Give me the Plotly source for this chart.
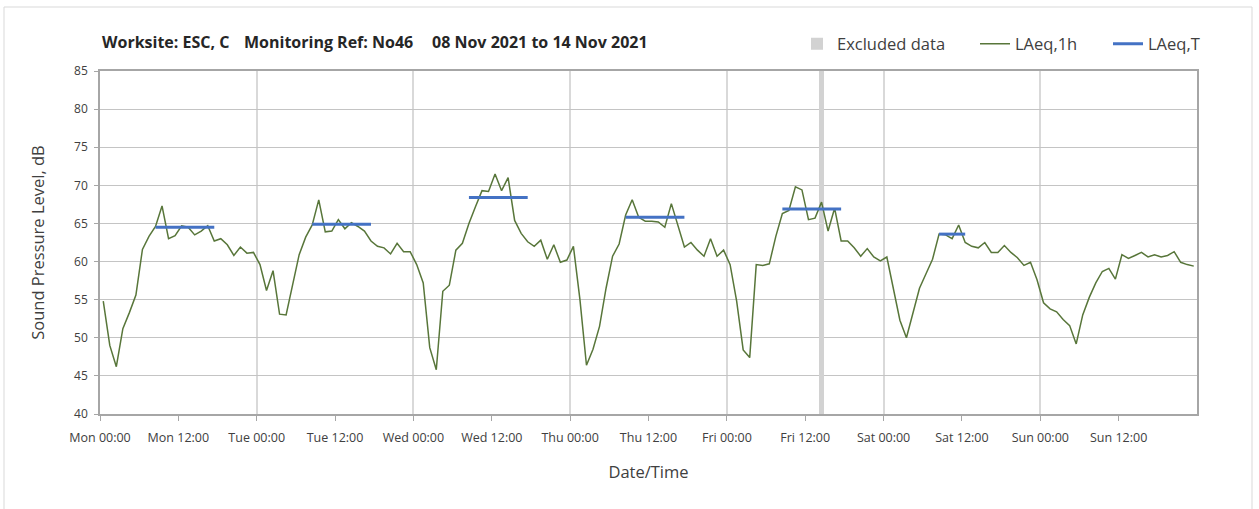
import pandas as pd
import plotly.graph_objects as go

# ---------------- data ----------------
start = "2021-11-08 00:00"
n_hours = 168

laeq_1h = [
    54.8, 49.0, 46.2, 51.2, 53.3, 55.6, 61.6, 63.3, 64.6, 67.3, 63.0, 63.4,
    64.7, 64.5, 63.5, 64.0, 64.7, 62.7, 63.0, 62.2, 60.8, 61.9, 61.1, 61.2,
    59.6, 56.2, 58.8, 53.1, 53.0, 57.0, 60.9, 63.2, 64.8, 68.1, 63.9, 64.0,
    65.5, 64.3, 65.1, 64.6, 64.0, 62.7, 62.0, 61.8, 61.0, 62.4, 61.3, 61.3,
    59.6, 57.2, 48.7, 45.8, 56.1, 56.9, 61.5, 62.4, 65.0, 67.2, 69.3, 69.2,
    71.5, 69.3, 71.0, 65.4, 63.7, 62.6, 62.0, 62.8, 60.3, 62.2, 59.9, 60.2,
    62.0, 55.0, 46.4, 48.5, 51.5, 56.5, 60.7, 62.3, 66.1, 68.1, 65.8, 65.3,
    65.3, 65.2, 64.5, 67.6, 64.7, 61.9, 62.5, 61.5, 60.7, 63.0, 60.7, 61.5,
    59.6, 54.8, 48.4, 47.4, 59.6, 59.5, 59.7, 63.3, 66.3, 66.7, 69.8, 69.4,
    65.5, 65.7, 67.8, 64.0, 67.0, 62.7, 62.7, 61.8, 60.7, 61.7, 60.6, 60.1,
    60.6, 56.3, 52.3, 50.0, 53.2, 56.5, 58.4, 60.3, 63.6, 63.5, 63.0, 64.8,
    62.5, 62.0, 61.8, 62.5, 61.2, 61.2, 62.1, 61.2, 60.5, 59.5, 59.9, 57.6,
    54.6, 53.8, 53.4, 52.4, 51.6, 49.2, 53.0, 55.3, 57.2, 58.7, 59.1, 57.7,
    60.9, 60.4, 60.8, 61.2, 60.6, 60.9, 60.6, 60.8, 61.3, 59.9, 59.6, 59.4,
]

# LAeq,T daytime periods (day offset from Monday, start hour, end hour, level)
laeq_t_day = [0, 1, 2, 3, 4, 5]
laeq_t_start_hour = [8, 8, 8, 8, 8, 8]
laeq_t_end_hour = [18, 18, 18, 18, 18, 13]
laeq_t_value = [64.5, 64.9, 68.4, 65.8, 66.9, 63.6]

excluded_hours = ["2021-11-12 14:00"]
excluded_level = 85

tick_labels = ["Mon 00:00", "Mon 12:00", "Tue 00:00", "Tue 12:00",
               "Wed 00:00", "Wed 12:00", "Thu 00:00", "Thu 12:00",
               "Fri 00:00", "Fri 12:00", "Sat 00:00", "Sat 12:00",
               "Sun 00:00", "Sun 12:00"]

title_parts = ["Worksite: ESC, C", "Monitoring Ref: No46",
               "08 Nov 2021 to 14 Nov 2021"]

# ---------------- derived ----------------
period_start = pd.date_range(start, periods=n_hours, freq="h")
x_mid = period_start + pd.Timedelta(minutes=30)

laeq_t = [None] * n_hours
for d, s, e, v in zip(laeq_t_day, laeq_t_start_hour, laeq_t_end_hour, laeq_t_value):
    for h in range(d * 24 + s, d * 24 + e):
        laeq_t[h] = v

excl_x = [pd.Timestamp(t) + pd.Timedelta(minutes=30) for t in excluded_hours]
excl_y = [excluded_level] * len(excl_x)

tick_vals = pd.date_range(start, periods=len(tick_labels), freq="12h")
day_grid = pd.date_range(start, periods=8, freq="24h")

# ---------------- layout helpers (pixel -> paper) ----------------
W, H = 1259, 509
L, R, T, B = 100, 62, 71, 95
PW, PH = W - L - R, H - T - B


def px(x):
    return (x - L) / PW


def py(y):
    return (H - B - y) / PH


FONT = "Open Sans"
TXT = "#404040"

fig = go.Figure()

fig.add_trace(go.Bar(
    x=excl_x, y=excl_y, name="Excluded data",
    marker=dict(color="#d2d2d2", line=dict(width=0)),
    width=0.9 * 3600 * 1000, hoverinfo="skip", legend="legend",
))
fig.add_trace(go.Scatter(
    x=x_mid, y=laeq_1h, name="LAeq,1h", mode="lines",
    line=dict(color="#58763a", width=1.5), legend="legend2",
))
fig.add_trace(go.Scatter(
    x=x_mid, y=laeq_t, name="LAeq,T", mode="lines",
    line=dict(color="#4472C4", width=3), connectgaps=False, legend="legend3",
))

leg_common = dict(orientation="h", yanchor="middle", y=py(44), xanchor="left",
                  font=dict(family=FONT, size=16.5, color=TXT),
                  itemwidth=30, bgcolor="rgba(0,0,0,0)")

fig.update_layout(
    width=W, height=H,
    margin=dict(l=L, r=R, t=T, b=B, autoexpand=False),
    paper_bgcolor="white", plot_bgcolor="white",
    font=dict(family=FONT, color=TXT, size=12),
    showlegend=True,
    legend=dict(x=px(797), **leg_common),
    legend2=dict(x=px(975), **leg_common),
    legend3=dict(x=px(1108), **leg_common),
    bargap=0,
)

fig.update_xaxes(
    type="date",
    range=[period_start[0], period_start[0] + pd.Timedelta(hours=n_hours)],
    tickmode="array", tickvals=tick_vals, ticktext=tick_labels,
    ticks="outside", ticklen=5, tickcolor="#a6a6a6",
    ticklabelstandoff=6,
    showgrid=False,
    minor=dict(tickmode="array", tickvals=day_grid, showgrid=True,
               gridcolor="#d9d9d9", gridwidth=1.5, ticks=""),
    showline=True, linecolor="#a6a6a6", linewidth=1.5, mirror=True,
    tickfont=dict(family=FONT, size=12.5, color=TXT),
    title=dict(text="Date/Time", font=dict(family=FONT, size=16.5, color=TXT),
               standoff=22),
    zeroline=False,
)
fig.update_yaxes(
    range=[40, 85], dtick=5, tick0=40,
    ticks="outside", ticklen=4, tickcolor="#a6a6a6",
    ticklabelstandoff=4,
    showgrid=True, gridcolor="#c4c4c4", gridwidth=1,
    showline=True, linecolor="#a6a6a6", linewidth=1.5, mirror=True,
    tickfont=dict(family=FONT, size=12, color=TXT),
    title=dict(text="Sound Pressure Level, dB",
               font=dict(family=FONT, size=16.5, color=TXT), standoff=25),
    zeroline=False,
)

for text, x0 in zip(title_parts, [100, 242, 430]):
    fig.add_annotation(
        text="<b>" + text + "</b>", xref="paper", yref="paper",
        x=px(x0), y=py(42), xanchor="left", yanchor="middle", showarrow=False,
        font=dict(family=FONT, size=16, color="#262626"),
    )

# outer chart border
fig.add_shape(type="rect", xref="paper", yref="paper",
              x0=px(4), x1=px(1252), y0=py(515), y1=py(7),
              line=dict(color="#d9d9d9", width=1), fillcolor="rgba(0,0,0,0)",
              layer="below")

fig.write_html("out.html", post_script="document.body.style.margin='0px';",
               config={"displayModeBar": False})
